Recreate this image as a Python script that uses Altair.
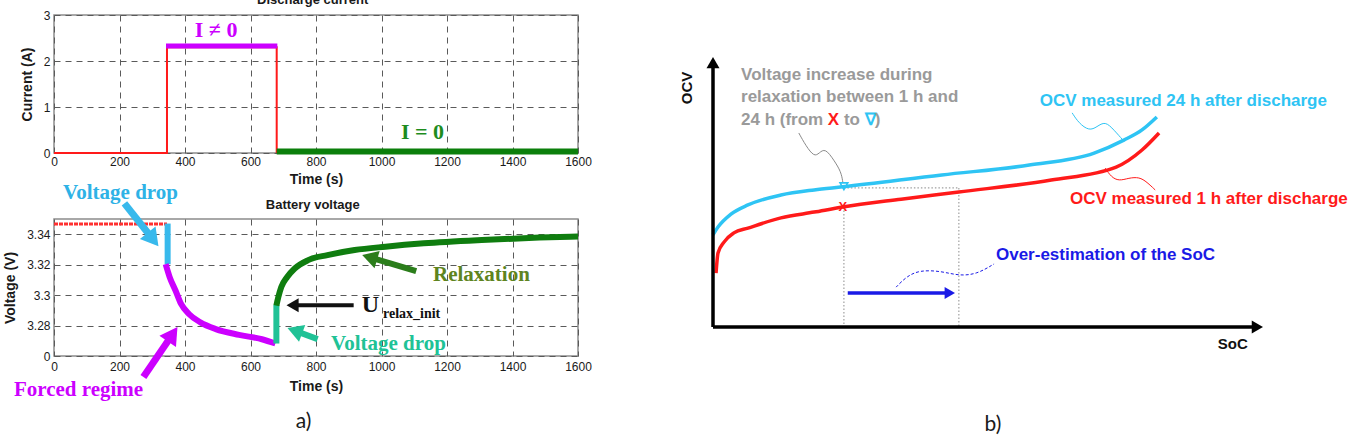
import math
import altair as alt
import pandas as pd

# ======================= DATA =======================
# ---- a) top: discharge current ----
time_ticks = [0, 200, 400, 600, 800, 1000, 1200, 1400, 1600]
current_ticks = [0, 1, 2, 3]

current_step_t = [0, 345, 345, 680, 680]
current_step_i = [0.0, 0.0, 2.30, 2.30, 0.0]
current_on_t = [342, 682]
current_on_i = [2.326, 2.326]
current_off_t = [680, 1600]
current_off_i = [0.03, 0.03]

current_text = ["I \u2260 0", "I = 0"]
current_text_t = [495, 1125]
current_text_i = [2.67, 0.46]

top_title = ["Discharge current"]
top_title_t, top_title_i = [790], [3.33]

# ---- a) bottom: battery voltage ----
volt_ticks = [3.26, 3.28, 3.30, 3.32, 3.34]
volt_tick_labels = ["0", "3.28", "3.3", "3.32", "3.34"]

rest_t = [0, 345]
rest_v = [3.3467, 3.3467]
drop1_t = [347, 347]
drop1_v = [3.3470, 3.3203]
forced_t = [341, 353, 371, 388, 412, 447, 494, 565, 635, 676]
forced_v = [3.3203, 3.3119, 3.3030, 3.2942, 3.2876, 3.2821, 3.2777, 3.2739, 3.2710, 3.2682]
drop2_t = [679, 679]
drop2_v = [3.2682, 3.2935]
relax_t = [679, 685, 694, 712, 735, 776, 835, 918, 1012, 1129, 1306, 1482, 1600]
relax_v = [3.2931, 3.2987, 3.3053, 3.3119, 3.3175, 3.3230, 3.3263, 3.3296, 3.3318,
           3.3340, 3.3362, 3.3378, 3.3385]

bottom_title = ["Battery voltage"]
bottom_title_t, bottom_title_v = [790], [3.3592]

volt_text = ["Voltage drop", "Forced regime", "Relaxation", "U", "relax_init", "Voltage drop"]
volt_text_t = [203, 75, 1305, 966, 1092, 1021]
volt_text_v = [3.3669, 3.2377, 3.3135, 3.2934, 3.2875, 3.2679]

volt_arrow_t1 = [215, 273, 1106, 915, 805]
volt_arrow_v1 = [3.3603, 3.2462, 3.3157, 3.2934, 3.2711]
volt_arrow_t2 = [319, 377, 941, 710, 713]
volt_arrow_v2 = [3.3321, 3.2790, 3.3263, 3.2934, 3.2784]

panel_a_label = ["a)"]
panel_a_t = [762]
panel_a_v = [3.2167]

# ---- b) OCV vs SoC schematic ----
soc_24h = [0.0, 0.91, 3.27, 6.36, 12.36, 18.4, 23.6, 41.6, 57.5, 69.3, 74.7, 78.0, 80.7]
ocv_24h = [27.0, 29.3, 33.1, 35.8, 38.7, 40.2, 41.1, 44.6, 47.5, 51.0, 54.8, 57.8, 61.6]
soc_1h = [0.55, 0.91, 2.0, 3.8, 6.36, 12.36, 18.4, 23.6, 34.2, 44.7, 61.5, 73.3, 78.0, 81.1]
ocv_1h = [15.8, 21.7, 24.9, 27.6, 29.0, 32.0, 33.7, 35.2, 37.5, 39.6, 43.1, 46.9, 51.9, 56.9]

mark_x_soc, mark_x_ocv = [23.6], [35.2]
mark_nabla_soc, mark_nabla_ocv = [23.8], [41.3]

hdot_soc, hdot_ocv = [23.8, 44.7], [40.8, 40.8]
vdot1_soc, vdot1_ocv = [23.8, 23.8], [35.2, 0.0]
vdot2_soc, vdot2_ocv = [44.7, 44.7], [40.8, 0.0]

axes_arrow_soc1 = [0.0, 0.0, 24.5]
axes_arrow_ocv1 = [0.0, 0.0, 10.0]
axes_arrow_soc2 = [0.0, 100.0, 44.0]
axes_arrow_ocv2 = [79.2, 0.0, 10.0]

sq_gray_soc = [15.6, 16.9, 18.4, 19.3, 20.4, 22.0, 23.3, 23.6]
sq_gray_ocv = [56.9, 53.1, 49.9, 51.0, 52.5, 48.9, 45.5, 42.5]
sq_cyan_soc = [65.3, 66.5, 68.4, 69.8, 71.3, 72.9, 74.7]
sq_cyan_ocv = [62.8, 59.8, 57.5, 58.7, 60.4, 57.8, 54.5]
sq_red_soc = [71.3, 72.4, 73.8, 75.6, 77.5, 78.9, 80.4]
sq_red_ocv = [46.6, 44.0, 42.8, 43.7, 44.0, 42.5, 40.2]
sq_blue_soc = [33.3, 35.1, 37.5, 41.5, 44.7, 48.0, 51.1]
sq_blue_ocv = [11.7, 14.7, 16.7, 16.4, 15.0, 15.5, 18.5]

note_text = ["Voltage increase during", "relaxation between 1 h and", "24 h (from", "X", "to",
             "\u2207", ")", "OCV measured 24 h after discharge", "OCV measured 1 h after discharge",
             "Over-estimation of the SoC"]
note_soc = [5.1, 5.1, 5.1, 20.85, 23.8, 27.6, 29.4, 59.4, 64.9, 51.45]
note_ocv = [73.9, 67.4, 60.7, 60.7, 60.7, 60.7, 60.7, 66.3, 37.5, 21.1]

axis_label_text = ["SoC"]
axis_label_soc, axis_label_ocv = [94.5], [-5.0]
ocv_label_text = ["OCV"]
ocv_label_soc, ocv_label_ocv = [-4.7], [70.1]
panel_b_label = ["b)"]
panel_b_soc, panel_b_ocv = [50.9], [-28.7]

# ======================= STYLE =======================
SANS = "Liberation Sans"
SERIF = "Liberation Serif"
RED = "#ff1a1a"
MAGENTA = "#cc00ff"
CYAN_A = "#2eb2e6"
TEAL = "#20c296"
GREEN = "#0f7d0f"
OLIVE = "#5e8420"
DKGREEN = "#2b7d1b"
CYAN_B = "#2ec4f4"
BLUE = "#1a1ae6"
GRAY = "#9a9a9a"
INK = "#1a1a1a"

volt_text_color = [CYAN_A, MAGENTA, OLIVE, "#111111", "#111111", TEAL]
volt_text_size = [21, 21, 21, 24, 14, 21]
volt_arrow_color = ["#38b9ec", MAGENTA, DKGREEN, "#111111", TEAL]
volt_arrow_width = [7, 7, 6, 4, 6]
volt_arrow_head = [20, 20, 18, 14, 18]
note_color = [GRAY, GRAY, GRAY, RED, GRAY, CYAN_B, GRAY, CYAN_B, RED, BLUE]
axes_arrow_color = ["#000000", "#000000", BLUE]
axes_arrow_width = [3.5, 3.5, 3.5]
axes_arrow_head = [13, 13, 12]

W_A, H_TOP, H_BOT = 524, 138, 137
T_DOM, I_DOM, V_DOM = [0, 1600], [0, 3], [3.26, 3.35]
W_B, H_B = 550, 341
S_DOM, O_DOM = [0, 100], [-8.5, 91.5]


def path(xs, ys, xf, yf, X, Y, color, width, dash=None, interp=None):
    df = pd.DataFrame({xf: xs, yf: ys, "k": list(range(len(xs)))})
    kw = dict(color=color, strokeWidth=width, strokeCap="butt")
    if dash:
        kw["strokeDash"] = dash
    if interp:
        kw["interpolate"] = interp
    return alt.Chart(df).mark_line(**kw).encode(x=X, y=Y, order="k:Q")


def texts(labels, xs, ys, xf, yf, X, Y, colors, sizes, font, weight="bold", align="center", angle=0):
    df = pd.DataFrame({xf: xs, yf: ys, "txt": labels, "c": colors, "fs": sizes})
    kw = dict(font=font, fontWeight=weight, align=align, baseline="middle")
    if angle:
        kw["angle"] = angle
    return alt.Chart(df).mark_text(**kw).encode(
        x=X, y=Y, text="txt:N", color=alt.Color("c:N", scale=None), size=alt.Size("fs:Q", scale=None))


def arrows(x1, y1, x2, y2, colors, widths, heads, xf, yf, X, Y, sx, sy):
    shafts, tips = [], []
    for a, b, c, d, col, w, h in zip(x1, y1, x2, y2, colors, widths, heads):
        dx, dy = (c - a) * sx, -(d - b) * sy
        L = math.hypot(dx, dy)
        ux, uy = dx / L, dy / L
        ang = math.degrees(math.atan2(ux, -uy)) % 360
        bs, bh = 0.7 * h, 0.433 * h
        shafts.append({xf: a, yf: b, xf + "2": c - ux * bs / sx, yf + "2": d + uy * bs / sy, "c": col, "w": w})
        tips.append({xf: c - ux * bh / sx, yf: d + uy * bh / sy, "ang": ang, "sz": h * h, "c": col})
    r = alt.Chart(pd.DataFrame(shafts)).mark_rule(strokeCap="butt").encode(
        x=X, y=Y, x2=alt.X2(xf + "2:Q"), y2=alt.Y2(yf + "2:Q"),
        color=alt.Color("c:N", scale=None), strokeWidth=alt.StrokeWidth("w:Q", scale=None))
    p = alt.Chart(pd.DataFrame(tips)).mark_point(shape="triangle-up", filled=True, opacity=1, strokeWidth=0).encode(
        x=X, y=Y, angle=alt.Angle("ang:Q", scale=None), size=alt.Size("sz:Q", scale=None),
        color=alt.Color("c:N", scale=None))
    return [r, p]


def time_axis(lp, tp):
    return alt.Axis(values=time_ticks, title="Time (s)", format="d", labelFlush=False, labelOverlap=False,
                    labelPadding=lp, titlePadding=tp, ticks=False, domain=False, grid=True)


volt_expr = " : ".join(f"abs(datum.value - {v}) < 0.001 ? '{l}'" for v, l in zip(volt_ticks, volt_tick_labels)) + " : ''"

# ---------- top plot ----------
Xt = alt.X("t:Q", scale=alt.Scale(domain=T_DOM, nice=False, zero=False), axis=time_axis(3, 5))
Yi = alt.Y("i:Q", scale=alt.Scale(domain=I_DOM, nice=False, zero=False),
           axis=alt.Axis(values=current_ticks, format="d", title="Current (A)", labelPadding=4,
                         titlePadding=9, ticks=False, domain=False, grid=True))
top = alt.layer(
    path(current_step_t, current_step_i, "t", "i", Xt, Yi, RED, 2),
    path(current_on_t, current_on_i, "t", "i", Xt, Yi, MAGENTA, 5),
    path(current_off_t, current_off_i, "t", "i", Xt, Yi, "#0b7f0b", 6),
    texts(current_text, current_text_t, current_text_i, "t", "i", Xt, Yi, [MAGENTA, "#1e8c1e"], [22, 22], SERIF),
    texts(top_title, top_title_t, top_title_i, "t", "i", Xt, Yi, [INK], [13], SANS),
).properties(width=W_A, height=H_TOP)

# ---------- bottom plot ----------
Xv = alt.X("t:Q", scale=alt.Scale(domain=T_DOM, nice=False, zero=False), axis=time_axis(5, 7))
Yv = alt.Y("v:Q", scale=alt.Scale(domain=V_DOM, nice=False, zero=False),
           axis=alt.Axis(values=volt_ticks, labelExpr=volt_expr, title="Voltage (V)", labelPadding=4,
                         titlePadding=9, ticks=False, domain=False, grid=True))
sx_a = W_A / (T_DOM[1] - T_DOM[0])
sy_a = H_BOT / (V_DOM[1] - V_DOM[0])
bottom = alt.layer(
    path(rest_t, rest_v, "t", "v", Xv, Yv, "#ff3030", 3, dash=[4, 1]),
    path(drop1_t, drop1_v, "t", "v", Xv, Yv, "#38b9ec", 6),
    path(forced_t, forced_v, "t", "v", Xv, Yv, MAGENTA, 6, interp="monotone"),
    path(drop2_t, drop2_v, "t", "v", Xv, Yv, TEAL, 6),
    path(relax_t, relax_v, "t", "v", Xv, Yv, GREEN, 6, interp="monotone"),
    *arrows(volt_arrow_t1, volt_arrow_v1, volt_arrow_t2, volt_arrow_v2, volt_arrow_color,
            volt_arrow_width, volt_arrow_head, "t", "v", Xv, Yv, sx_a, sy_a),
    texts(volt_text, volt_text_t, volt_text_v, "t", "v", Xv, Yv, volt_text_color, volt_text_size, SERIF),
    texts(bottom_title, bottom_title_t, bottom_title_v, "t", "v", Xv, Yv, [INK], [13], SANS),
    texts(panel_a_label, panel_a_t, panel_a_v, "t", "v", Xv, Yv, [INK], [21], "Lato", weight="normal"),
).properties(width=W_A, height=H_BOT)

# ---------- right schematic ----------
Xs = alt.X("soc:Q", scale=alt.Scale(domain=S_DOM, nice=False, zero=False), axis=None)
Yo = alt.Y("ocv:Q", scale=alt.Scale(domain=O_DOM, nice=False, zero=False), axis=None)
sx_b = W_B / (S_DOM[1] - S_DOM[0])
sy_b = H_B / (O_DOM[1] - O_DOM[0])

nabla = alt.Chart(pd.DataFrame({"soc": mark_nabla_soc, "ocv": mark_nabla_ocv})).mark_point(
    shape="triangle-down", filled=False, color=CYAN_B, size=60, strokeWidth=1.6, opacity=1).encode(x=Xs, y=Yo)

right = alt.layer(
    path(hdot_soc, hdot_ocv, "soc", "ocv", Xs, Yo, "#a0a0a0", 1.2, dash=[1.5, 2]),
    path(vdot1_soc, vdot1_ocv, "soc", "ocv", Xs, Yo, "#a0a0a0", 1.2, dash=[1.5, 2]),
    path(vdot2_soc, vdot2_ocv, "soc", "ocv", Xs, Yo, "#a0a0a0", 1.2, dash=[1.5, 2]),
    path(soc_24h, ocv_24h, "soc", "ocv", Xs, Yo, CYAN_B, 3.5, interp="monotone"),
    path(soc_1h, ocv_1h, "soc", "ocv", Xs, Yo, RED, 3.5, interp="monotone"),
    *arrows(axes_arrow_soc1, axes_arrow_ocv1, axes_arrow_soc2, axes_arrow_ocv2, axes_arrow_color,
            axes_arrow_width, axes_arrow_head, "soc", "ocv", Xs, Yo, sx_b, sy_b),
    path(sq_gray_soc, sq_gray_ocv, "soc", "ocv", Xs, Yo, "#8a8a8a", 1, interp="basis"),
    path(sq_cyan_soc, sq_cyan_ocv, "soc", "ocv", Xs, Yo, CYAN_B, 1, interp="basis"),
    path(sq_red_soc, sq_red_ocv, "soc", "ocv", Xs, Yo, RED, 1, interp="basis"),
    path(sq_blue_soc, sq_blue_ocv, "soc", "ocv", Xs, Yo, BLUE, 1, dash=[3, 2], interp="basis"),
    nabla,
    texts(["X"], mark_x_soc, mark_x_ocv, "soc", "ocv", Xs, Yo, [RED], [13], SANS),
    texts(note_text, note_soc, note_ocv, "soc", "ocv", Xs, Yo, note_color, [17] * len(note_text), SANS, align="left"),
    texts(axis_label_text, axis_label_soc, axis_label_ocv, "soc", "ocv", Xs, Yo, ["#111111"], [15], SANS),
    texts(ocv_label_text, ocv_label_soc, ocv_label_ocv, "soc", "ocv", Xs, Yo, ["#111111"], [15], SANS, angle=270),
    texts(panel_b_label, panel_b_soc, panel_b_ocv, "soc", "ocv", Xs, Yo, [INK], [21], "Lato", weight="normal"),
).properties(width=W_B, height=H_B, view=alt.ViewBackground(stroke="transparent"))

left = alt.vconcat(top, bottom, spacing=66, bounds="flush")
chart = alt.hconcat(left, right, spacing=86).properties(
    padding={"left": 2, "top": -7, "right": 0, "bottom": 0}, background="white"
).configure_view(stroke="#8c8c8c", strokeWidth=1.5).configure_axis(
    labelFont=SANS, labelFontSize=12, labelColor=INK,
    titleFont=SANS, titleFontSize=14, titleFontWeight="bold", titleColor=INK,
    gridColor="#5a5a5a", gridDash=[6, 5], gridWidth=1,
)

chart.save("out.html", embed_options={"renderer": "svg", "actions": False})
